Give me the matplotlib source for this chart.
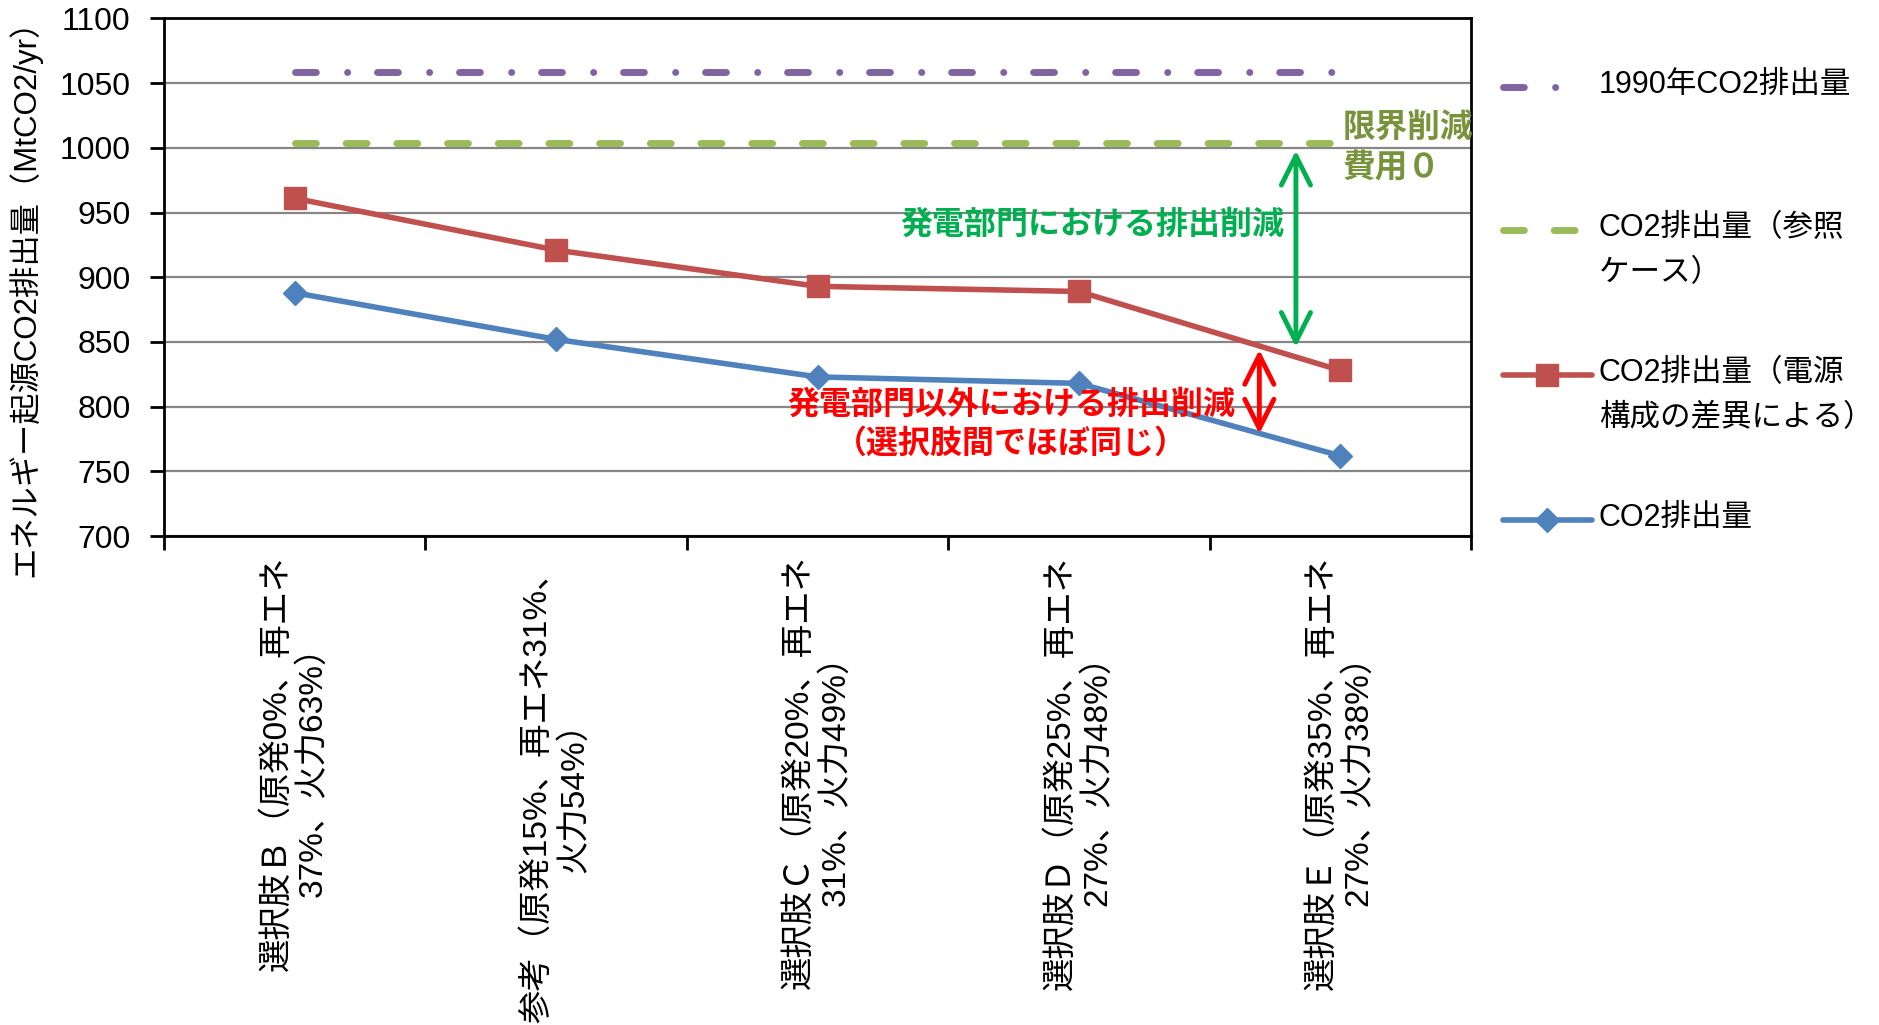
import matplotlib.pyplot as plt
from matplotlib.lines import Line2D
from matplotlib.ticker import FixedLocator, NullFormatter

plt.rcParams["font.family"] = ["Liberation Sans", "Noto Sans CJK JP"]

# scenario categories (power mix per option)
CATEGORIES = [
    "選択肢Ｂ（原発0%、再エネ\n37%、火力63%）",
    "参考（原発15%、再エネ31%、\n火力54%）",
    "選択肢Ｃ（原発20%、再エネ\n31%、火力49%）",
    "選択肢Ｄ（原発25%、再エネ\n27%、火力48%）",
    "選択肢Ｅ（原発35%、再エネ\n27%、火力38%）",
]
# energy-related CO2 emissions, MtCO2/yr
CO2_1990 = [1059, 1059, 1059, 1059, 1059]
CO2_REF = [1004, 1004, 1004, 1004, 1004]
CO2_MIX = [961, 921, 893, 889, 828]
CO2_TOTAL = [888, 852, 823, 818, 762]

LABELS = [
    "1990年CO2排出量",
    "CO2排出量（参照\nケース）",
    "CO2排出量（電源\n構成の差異による）",
    "CO2排出量",
]

PURPLE = "#8064A2"
GREEN = "#9BBB59"
RED = "#C0504D"
BLUE = "#4F81BD"
ARROW_GREEN = "#00B050"
OLIVE = "#77933C"
ARROW_RED = "#FF0000"

STYLES = [
    dict(color=PURPLE, lw=5, dashes=(3.0, 4.5, 0.01, 4.3), dash_capstyle="round"),
    dict(color=GREEN, lw=5, dashes=(3.0, 4.3), dash_capstyle="round"),
    dict(color=RED, lw=4, marker="s", ms=16, solid_capstyle="round"),
    dict(color=BLUE, lw=4, marker="D", ms=12.5, solid_capstyle="round"),
]

fig = plt.figure(figsize=(18.79, 10.25), dpi=100)
ax = fig.add_axes([0.0873, 0.477, 0.6956, 0.505])

x = list(range(len(CATEGORIES)))
for series, style in zip([CO2_1990, CO2_REF, CO2_MIX, CO2_TOTAL], STYLES):
    ax.plot(x, series, zorder=3, **style)

ax.set_xlim(-0.5, len(CATEGORIES) - 0.5)
ax.set_ylim(700, 1100)
ax.set_yticks(range(700, 1101, 50))
ax.grid(axis="y", color="#868686", lw=1.6)
ax.set_axisbelow(True)
for sp in ax.spines.values():
    sp.set_color("black")
    sp.set_linewidth(2)

# category boundaries carry the tick marks, centres carry the labels
ax.xaxis.set_major_locator(FixedLocator([i - 0.5 for i in range(len(CATEGORIES) + 1)]))
ax.xaxis.set_major_formatter(NullFormatter())
ax.set_xticks(x, minor=True)
ax.set_xticklabels(CATEGORIES, minor=True, rotation=90, ha="center", va="top",
                   multialignment="center", linespacing=1.2, fontsize=24)
ax.tick_params(axis="x", which="minor", length=0, pad=14)
ax.tick_params(axis="x", which="major", length=10, width=2)
ax.tick_params(axis="y", length=10, width=2, labelsize=23, pad=14)

ax.set_ylabel("エネルギー起源CO2排出量（MtCO2/yr）", fontsize=22.5)
ax.yaxis.set_label_coords(-0.094, 0.475)

# reduction arrows and notes
arrow_kw = dict(arrowstyle="<->, head_length=0.6, head_width=0.3",
                mutation_scale=35, shrinkA=0, shrinkB=0, lw=3.5)
ax.annotate("", xy=(3.83, 998), xytext=(3.83, 846),
            arrowprops=dict(color=ARROW_GREEN, **arrow_kw), zorder=5)
ax.annotate("", xy=(3.69, 844), xytext=(3.69, 779),
            arrowprops=dict(color=ARROW_RED, **arrow_kw), zorder=5)
ax.text(3.05, 940, "発電部門における排出削減", color=ARROW_GREEN, fontsize=23,
        fontweight="bold", ha="center", va="center", zorder=6)
ax.text(2.74, 786, "発電部門以外における排出削減\n（選択肢間でほぼ同じ）", color=ARROW_RED,
        fontsize=23, fontweight="bold", ha="center", va="center",
        multialignment="center", linespacing=1.35, zorder=6)
ax.text(4.01, 999, "限界削減\n費用０", color=OLIVE, fontsize=23.5, fontweight="bold",
        ha="left", va="center", linespacing=1.35, zorder=6, clip_on=False)

# legend drawn on a pixel-space overlay so entries sit on their first line
lax = fig.add_axes([0, 0, 1, 1], facecolor="none")
lax.set_xlim(0, 1879)
lax.set_ylim(1025, 0)
lax.axis("off")
entry_y = [87, 230, 375, 520]
handle_end = [1565, 1588, 1592, 1592]
for y, label, style, x1 in zip(entry_y, LABELS, STYLES, handle_end):
    h = Line2D([1503, x1], [y, y], **{k: v for k, v in style.items() if k != "marker"})
    lax.add_line(h)
    if "marker" in style:
        lax.plot([1547], [y], ls="none", marker=style["marker"], ms=style["ms"],
                 color=style["color"])
    lax.text(1599, y - 17, label, fontsize=22, ha="left", va="top", linespacing=1.65)

fig.savefig("out.png", dpi=100)
plt.close(fig)
